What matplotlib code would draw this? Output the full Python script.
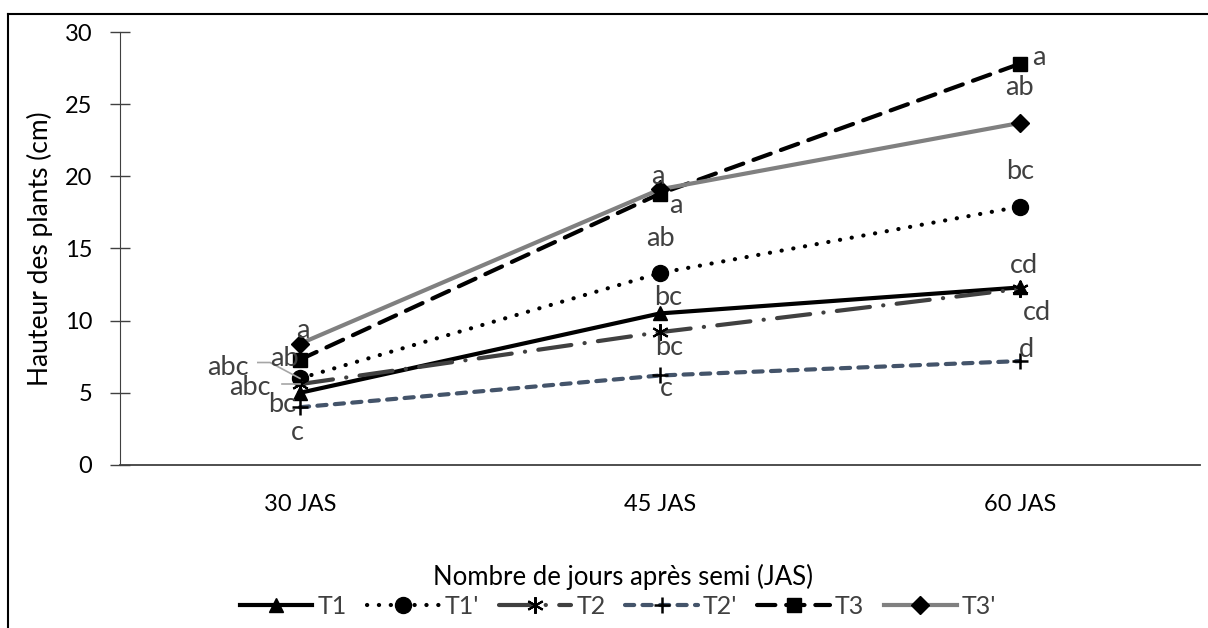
import matplotlib.pyplot as plt
from matplotlib.lines import Line2D

plt.rcParams['font.family'] = ['Lato', 'DejaVu Sans']

jours = ['30 JAS', '45 JAS', '60 JAS']

t1 = [5.0, 10.5, 12.3]
t1p = [6.0, 13.3, 17.9]
t2 = [5.6, 9.2, 12.2]
t2p = [4.0, 6.2, 7.2]
t3 = [7.3, 18.8, 27.8]
t3p = [8.4, 19.1, 23.7]

# lettres de significativite (par serie, par date)
let_t1 = ['bc', 'bc', 'cd']
let_t1p = ['abc', 'ab', 'bc']
let_t2 = ['abc', 'bc', 'cd']
let_t2p = ['c', 'c', 'd']
let_t3 = ['ab', 'a', 'a']
let_t3p = ['a', 'a', 'ab']

fig = plt.figure(figsize=(12.08, 6.28), dpi=100)
ax = fig.add_axes([0.0993, 0.2596, 0.894, 0.6894])

x = range(len(jours))
lw = 3
ax.plot(x, t1, color='black', lw=lw, marker='^', ms=10, mfc='black', mec='black', label='T1')
ax.plot(x, t1p, color='black', lw=lw, ls=(0, (0.05, 2.8)), dash_capstyle='round',
        marker='o', ms=11.5, mfc='black', mec='black', label="T1'")
ax.plot(x, t2, color='#404040', lw=lw, ls=(0, (8, 3.2, 0.05, 3.2)), dash_capstyle='round',
        marker=(6, 2, 0), ms=12, mfc='black', mec='black', mew=1.5, label='T2')
ax.plot(x, t2p, color='#44546A', lw=lw, ls=(0, (2.2, 2.0)), dash_capstyle='round',
        marker='+', ms=12, mfc='black', mec='black', mew=1.8, label="T2'")
ax.plot(x, t3, color='black', lw=lw, ls=(0, (4.4, 2.6)), dash_capstyle='round',
        marker='s', ms=10, mfc='black', mec='black', label='T3')
ax.plot(x, t3p, color='#808080', lw=lw, marker='D', ms=9.5, mfc='black', mec='black', label="T3'")

# positions des lettres (decalage en pixels par rapport au point)
txt = dict(color='#404040', fontsize=19.5, ha='center', va='center', textcoords='offset pixels')
series = [(t1, let_t1, [(-18, -12), (8, 16), (4, 22)]),
          (t1p, let_t1p, [(-72, 11), (1, 35), (0, 35)]),
          (t2, let_t2, [(-50, -3), (9, -15), (17, -24)]),
          (t2p, let_t2p, [(-3, -25), (6, -13), (7, 12)]),
          (t3, let_t3, [(-16, 1), (16, -12), (19, 6)]),
          (t3p, let_t3p, [(3, 13), (-2, 13), (0, 35)])]
for vals, lets, offs in series:
    for i, (v, l, o) in enumerate(zip(vals, lets, offs)):
        ax.annotate(l, (i, v), xytext=o, **txt)

# traits de rappel a 30 JAS
ax.plot([-0.117, -0.083, 0], [7.1, 7.1, 6.0], color='#a6a6a6', lw=1.2)
ax.plot([-0.05, 0], [5.6, 5.6], color='#a6a6a6', lw=1.2)

ax.set_xlim(-0.5, 2.5)
ax.set_ylim(0, 30)
ax.set_yticks(range(0, 31, 5))
ax.set_xticks(list(x))
ax.set_xticklabels(jours)
ax.tick_params(axis='y', labelsize=17, length=14, width=1, direction='inout', pad=13, color='#404040')
ax.tick_params(axis='x', labelsize=17, length=0, pad=21)
for s in ['top', 'right']:
    ax.spines[s].set_visible(False)
ax.spines['left'].set_color('#404040')
ax.spines['bottom'].set_color('#404040')
ax.spines['bottom'].set_linewidth(1.3)

ax.set_ylabel('Hauteur des plants (cm)', fontsize=19, va='center')
ax.yaxis.set_label_coords(-0.074, 0.5)
ax.set_xlabel('Nombre de jours après semi (JAS)', fontsize=18.5, va='center')
ax.xaxis.set_label_coords(0.466, -0.259)

leg = fig.legend(loc='center', bbox_to_anchor=(0.5116, 0.035), ncol=6, frameon=False,
                 fontsize=18, handlelength=2.9, columnspacing=0.8, handletextpad=0.2,
                 borderaxespad=0, borderpad=0)
for t in leg.get_texts():
    t.set_color('#404040')

# cadre (haut et gauche seulement, le reste est coupe)
top = 1 - 14 / 628
left = 8 / 1208
fig.add_artist(Line2D([left, 1], [top, top], transform=fig.transFigure, color='black', lw=1.5))
fig.add_artist(Line2D([left, left], [0, top], transform=fig.transFigure, color='black', lw=1.5))

fig.savefig('out.png', dpi=100)
